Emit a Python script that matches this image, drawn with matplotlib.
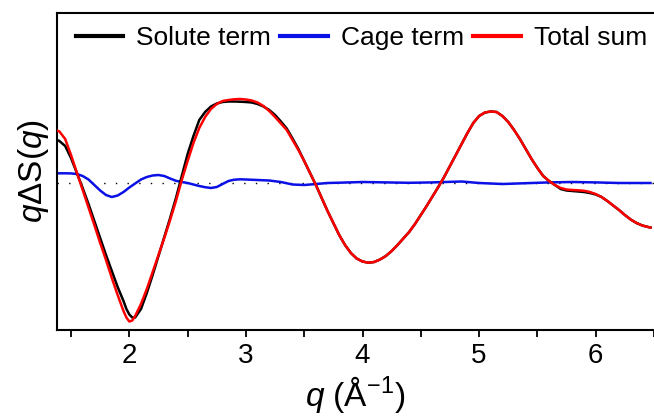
import matplotlib
matplotlib.use("Agg")
import matplotlib.pyplot as plt

plt.rcParams["font.family"] = ["Liberation Sans", "DejaVu Sans"]
plt.rcParams["mathtext.fontset"] = "custom"
plt.rcParams["mathtext.rm"] = "Liberation Sans"
plt.rcParams["mathtext.it"] = "Liberation Sans:italic"

# ==========================================================
# Data
# ==========================================================

q = [1.38, 1.40, 1.45, 1.50, 1.55, 1.60, 1.65, 1.70, 1.75, 1.80, 1.85, 1.90,
     1.95, 1.975, 2.00, 2.025, 2.05, 2.10, 2.15, 2.20, 2.25, 2.30, 2.35, 2.40,
     2.45, 2.50, 2.55, 2.60, 2.65, 2.70, 2.75, 2.80, 2.85, 2.90, 2.95, 3.00,
     3.05, 3.10, 3.15, 3.20, 3.25, 3.30, 3.35, 3.40, 3.45, 3.50, 3.55, 3.60,
     3.65, 3.70, 3.75, 3.80, 3.85, 3.90, 3.95, 4.00, 4.05, 4.10, 4.15, 4.20,
     4.25, 4.30, 4.35, 4.40, 4.45, 4.50, 4.55, 4.60, 4.65, 4.70, 4.75, 4.80,
     4.85, 4.90, 4.95, 5.00, 5.05, 5.10, 5.15, 5.20, 5.25, 5.30, 5.35, 5.40,
     5.45, 5.50, 5.55, 5.60, 5.65, 5.70, 5.75, 5.80, 5.85, 5.90, 5.95, 6.00,
     6.05, 6.10, 6.15, 6.20, 6.25, 6.30, 6.35, 6.40, 6.45, 6.47]

total_sum = [0.523, 0.516, 0.44, 0.28, 0.105, -0.07, -0.245, -0.42, -0.60,
             -0.77, -0.95, -1.12, -1.28, -1.345, -1.385, -1.375, -1.33, -1.21,
             -1.06, -0.89, -0.72, -0.55, -0.37, -0.18, 0.03, 0.22, 0.40, 0.55,
             0.66, 0.74, 0.79, 0.82, 0.83, 0.837, 0.84, 0.835, 0.825, 0.805,
             0.77, 0.72, 0.66, 0.595, 0.53, 0.43, 0.33, 0.22, 0.10, -0.02,
             -0.15, -0.28, -0.40, -0.52, -0.62, -0.70, -0.755, -0.785, -0.797,
             -0.79, -0.765, -0.73, -0.68, -0.62, -0.555, -0.49, -0.41, -0.32,
             -0.23, -0.135, -0.04, 0.06, 0.17, 0.28, 0.39, 0.50, 0.60, 0.67,
             0.705, 0.715, 0.71, 0.67, 0.61, 0.53, 0.44, 0.34, 0.24, 0.15,
             0.07, 0.02, -0.02, -0.05, -0.065, -0.07, -0.073, -0.078, -0.09,
             -0.11, -0.14, -0.18, -0.225, -0.27, -0.32, -0.365, -0.40, -0.425,
             -0.44, -0.445]

solute_term = [0.43, 0.42, 0.37, 0.25, 0.10, -0.05, -0.21, -0.38, -0.55,
               -0.72, -0.88, -1.04, -1.18, -1.26, -1.315, -1.345, -1.345,
               -1.26, -1.10, -0.92, -0.73, -0.54, -0.35, -0.15, 0.07, 0.29,
               0.47, 0.63, 0.71, 0.765, 0.795, 0.81, 0.815, 0.815, 0.813, 0.81,
               0.805, 0.79, 0.765, 0.73, 0.68, 0.615, 0.545, 0.445, 0.34, 0.22,
               0.10, -0.02, -0.15, -0.28, -0.40, -0.52, -0.62, -0.70, -0.755,
               -0.785, -0.797, -0.79, -0.765, -0.73, -0.68, -0.62, -0.555,
               -0.49, -0.41, -0.32, -0.23, -0.135, -0.04, 0.06, 0.17, 0.28,
               0.39, 0.50, 0.60, 0.67, 0.705, 0.715, 0.71, 0.67, 0.61, 0.53,
               0.44, 0.34, 0.24, 0.15, 0.07, 0.02, -0.02, -0.06, -0.075, -0.08,
               -0.085, -0.09, -0.10, -0.115, -0.14, -0.18, -0.225, -0.27,
               -0.32, -0.365, -0.40, -0.425, -0.44, -0.445]

q_cage = [1.38, 1.40, 1.45, 1.50, 1.55, 1.60, 1.65, 1.70, 1.75, 1.80, 1.85,
          1.90, 1.95, 2.00, 2.05, 2.10, 2.15, 2.20, 2.25, 2.30, 2.35, 2.40,
          2.45, 2.50, 2.55, 2.60, 2.65, 2.70, 2.75, 2.80, 2.85, 2.90, 2.95,
          3.00, 3.10, 3.20, 3.30, 3.40, 3.50, 3.60, 3.70, 3.80, 4.00, 4.20,
          4.40, 4.60, 4.85, 5.00, 5.20, 5.40, 5.60, 5.80, 6.00, 6.20, 6.47]
cage_term = [0.097, 0.097, 0.097, 0.096, 0.09, 0.07, 0.035, -0.02, -0.075,
             -0.12, -0.14, -0.125, -0.09, -0.045, -0.005, 0.035, 0.06, 0.075,
             0.08, 0.07, 0.045, 0.022, 0.01, 0.0, -0.015, -0.03, -0.042,
             -0.05, -0.04, -0.01, 0.02, 0.033, 0.037, 0.035, 0.03, 0.025,
             0.01, -0.015, -0.02, -0.01, 0.0, 0.003, 0.01, 0.006, 0.002,
             0.006, 0.015, 0.0, -0.01, -0.002, 0.006, 0.01, 0.006, 0.0, 0.0]

# ==========================================================
# Plot
# ==========================================================

fig = plt.figure(figsize=(6.54, 4.18), dpi=100)
ax = fig.add_axes([0.0872, 0.2105, 0.9128, 0.7584])

ax.axhline(0, color="black", lw=1.0, ls=(0, (1, 7.4)), zorder=1)
ax.plot(q, solute_term, color="black", lw=1.8, label="Solute term",
        zorder=3, solid_joinstyle="round")
ax.plot(q_cage, cage_term, color="#0a10e6", lw=1.8, label="Cage term",
        zorder=2, solid_joinstyle="round")
ax.plot(q, total_sum, color="#ff0000", lw=1.8, label="Total sum",
        zorder=4, solid_joinstyle="round")

ax.set_xlim(1.38, 6.47)
ax.set_ylim(-1.47, 1.70)

ax.set_xticks([2, 3, 4, 5, 6])
ax.set_xticks([1.5, 2.5, 3.5, 4.5, 5.5, 6.5], minor=True)
ax.set_yticks([])
ax.tick_params(axis="x", which="both", direction="out", length=5, width=1.3,
               labelsize=20, pad=4)

for side in ["left", "top", "bottom"]:
    ax.spines[side].set_linewidth(1.5)
ax.spines["right"].set_visible(False)

ax.set_xlabel(r"$q$ (Å$^{-1}$)", fontsize=24, labelpad=4)
ax.set_ylabel(r"$q$ΔS($q$)", fontsize=24, labelpad=4)

ax.legend(loc="upper center", bbox_to_anchor=(0.51, 1.0), ncol=3,
          frameon=False, fontsize=19, handlelength=1.8, handletextpad=0.5,
          columnspacing=0.35, borderaxespad=0.1)
for line in ax.get_legend().get_lines():
    line.set_linewidth(3)

fig.savefig("out.png", dpi=100)
